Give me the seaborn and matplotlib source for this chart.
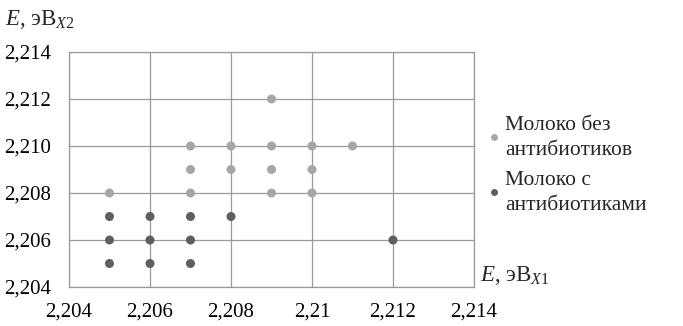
import numpy as np
import pandas as pd
import seaborn as sns
import matplotlib
matplotlib.use("Agg")
import matplotlib.pyplot as plt
from matplotlib.ticker import FuncFormatter, MultipleLocator

# данные: молоко без антибиотиков
x_bez = [2.205, 2.207, 2.207, 2.207, 2.208, 2.208, 2.209, 2.209, 2.209, 2.209, 2.210, 2.210, 2.210, 2.211]
y_bez = [2.208, 2.208, 2.209, 2.210, 2.209, 2.210, 2.212, 2.210, 2.209, 2.208, 2.210, 2.209, 2.208, 2.210]
# данные: молоко с антибиотиками
x_s = [2.205, 2.205, 2.205, 2.206, 2.206, 2.206, 2.207, 2.207, 2.207, 2.208, 2.212]
y_s = [2.207, 2.206, 2.205, 2.207, 2.206, 2.205, 2.207, 2.206, 2.205, 2.207, 2.206]

groups = ["Молоко без\nантибиотиков", "Молоко с\nантибиотиками"]
colors = ["#a6a6a6", "#5f5f5f"]

df = pd.DataFrame({
    "x": x_bez + x_s,
    "y": y_bez + y_s,
    "g": [groups[0]] * len(x_bez) + [groups[1]] * len(x_s),
})

sns.set_style("white")
plt.rcParams["font.family"] = ["Liberation Serif", "DejaVu Serif"]
plt.rcParams["mathtext.fontset"] = "custom"
plt.rcParams["mathtext.it"] = "Liberation Serif:italic"
plt.rcParams["mathtext.rm"] = "Liberation Serif"

fig = plt.figure(figsize=(6.83, 3.26), dpi=100)
ax = fig.add_axes([0.101, 0.1196, 0.593, 0.7209])

sns.scatterplot(data=df, x="x", y="y", hue="g", palette=colors, s=42,
                edgecolor="none", ax=ax, zorder=3)

ax.set_xlim(2.204, 2.214)
ax.set_ylim(2.204, 2.214)
ax.xaxis.set_major_locator(MultipleLocator(0.002))
ax.yaxis.set_major_locator(MultipleLocator(0.002))

def fmt_x(v, pos):
    s = ("%.3f" % v).rstrip("0").rstrip(".")
    return s.replace(".", ",")

ax.xaxis.set_major_formatter(FuncFormatter(fmt_x))
ax.yaxis.set_major_formatter(FuncFormatter(lambda v, p: ("%.3f" % v).replace(".", ",")))

ax.grid(True, color="#9a9a9a", linewidth=0.9)
for sp in ax.spines.values():
    sp.set_color("#9a9a9a")
    sp.set_linewidth(0.9)
ax.tick_params(axis="both", direction="out", length=5, color="#9a9a9a",
               labelsize=15, labelcolor="black", width=0.9)
ax.tick_params(axis="x", pad=6)
ax.tick_params(axis="y", pad=8)
ax.set_xlabel("")
ax.set_ylabel("")

fig.text(0.008, 0.94, "$E$, эВ$_{X2}$", fontsize=16.5, va="center", ha="left")
fig.text(0.703, 0.155, "$E$, эВ$_{X1}$", fontsize=16.5, va="center", ha="left")

leg = ax.legend(loc="upper left", bbox_to_anchor=(0.7, 0.67), bbox_transform=fig.transFigure,
                frameon=False, fontsize=15.5, handletextpad=0.15, handlelength=0.7,
                labelspacing=0.55, borderaxespad=0)
for h in leg.legend_handles:
    h.set_markersize(5)
for t in leg.get_texts():
    t.set_linespacing(1.38)

fig.savefig("out.png", dpi=100)
